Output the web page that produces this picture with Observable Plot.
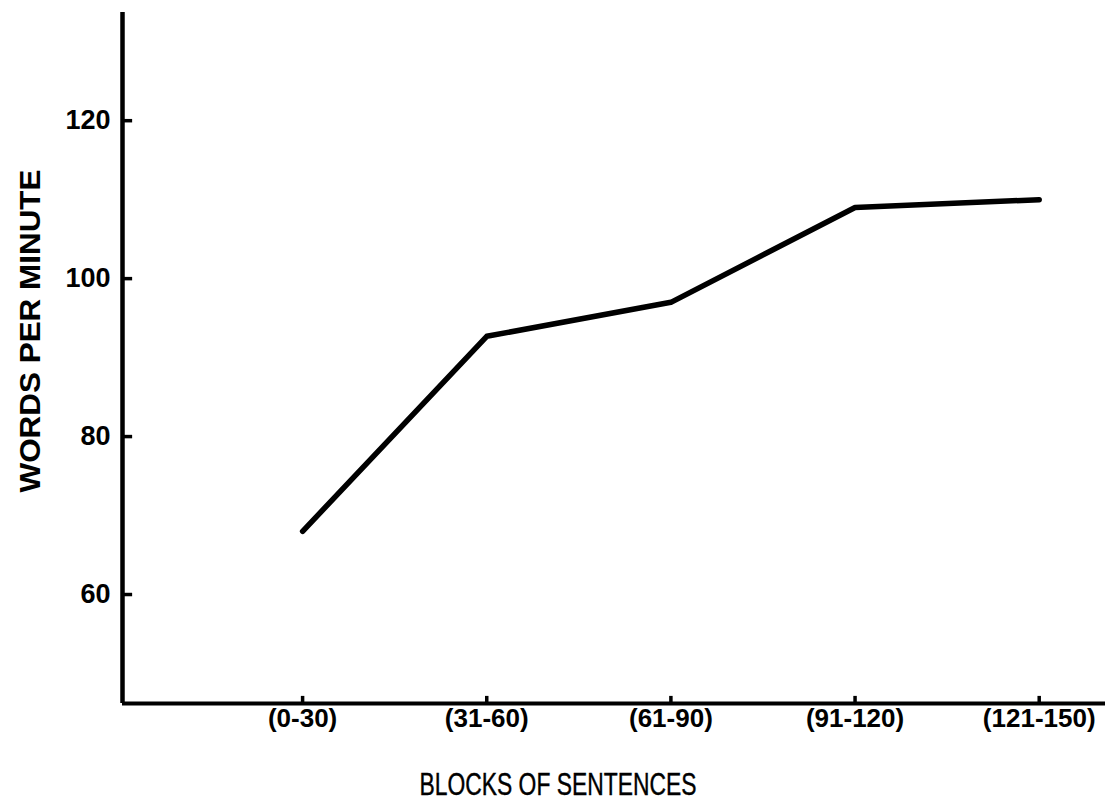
<!DOCTYPE html>
<html>
<head>
<meta charset="utf-8">
<script src="https://cdn.jsdelivr.net/npm/d3@7"></script>
<script src="https://cdn.jsdelivr.net/npm/@observablehq/plot@0.6"></script>
<style>
  html, body { margin: 0; padding: 0; background: #fff; }
</style>
</head>
<body>
<div id="chart"></div>
<script>
const categories = ["(0-30)", "(31-60)", "(61-90)", "(91-120)", "(121-150)"];
const positions = [1, 2, 3, 4, 5];
const wordsPerMinute = [68, 92.7, 97, 109, 110];
const yTicks = [60, 80, 100, 120];
const xLabel = "BLOCKS OF SENTENCES";
const yLabel = "WORDS PER MINUTE";

const xDomain = [0.022, 5.36];
const yDomain = [46.2, 133.7];

const data = categories.map((c, i) => ({pos: positions[i], label: c, wpm: wordsPerMinute[i]}));

const font = "'Liberation Sans', Arial, Helvetica, sans-serif";

const chart = Plot.plot({
  width: 1105,
  height: 808,
  marginLeft: 122,
  marginRight: 0,
  marginTop: 12,
  marginBottom: 105,
  x: {type: "linear", domain: xDomain},
  y: {type: "linear", domain: yDomain},
  style: {background: "white", color: "black", fontFamily: font},
  marks: [
    Plot.axisX(positions, {
      tickFormat: (d) => categories[positions.indexOf(d)],
      tickSize: 0, tickPadding: 5, fontSize: 26, fontWeight: "bold", label: null
    }),
    Plot.axisY(yTicks, {
      tickSize: 0, tickPadding: 12, fontSize: 27, fontWeight: "bold", label: null
    }),
    Plot.ruleX(positions, {x: (d) => d, y1: yDomain[0], y2: yDomain[0] + 0.9, stroke: "black", strokeWidth: 3.5}),
    Plot.ruleY(yTicks, {y: (d) => d, x1: xDomain[0], x2: xDomain[0] + 0.055, stroke: "black", strokeWidth: 3.5}),
    Plot.ruleY([yDomain[0]], {stroke: "black", strokeWidth: 4}),
    Plot.ruleX([xDomain[0]], {stroke: "black", strokeWidth: 4.5}),
    Plot.line(data, {x: "pos", y: "wpm", stroke: "black", strokeWidth: 5.5, strokeLinejoin: "round", strokeLinecap: "round"})
  ]
});

document.getElementById("chart").appendChild(chart);

const svg = d3.select(chart);
svg.append("text")
  .attr("x", 558).attr("y", 795)
  .attr("text-anchor", "middle")
  .attr("font-family", font)
  .attr("font-size", 31)
  .attr("textLength", 277)
  .attr("lengthAdjust", "spacingAndGlyphs")
  .attr("fill", "black")
  .attr("stroke", "black")
  .attr("stroke-width", 0.4)
  .text(xLabel);

svg.append("text")
  .attr("transform", "translate(40,331) rotate(-90)")
  .attr("text-anchor", "middle")
  .attr("font-family", font)
  .attr("font-weight", "bold")
  .attr("font-size", 29)
  .attr("textLength", 323)
  .attr("lengthAdjust", "spacingAndGlyphs")
  .attr("fill", "black")
  .text(yLabel);
</script>
</body>
</html>
